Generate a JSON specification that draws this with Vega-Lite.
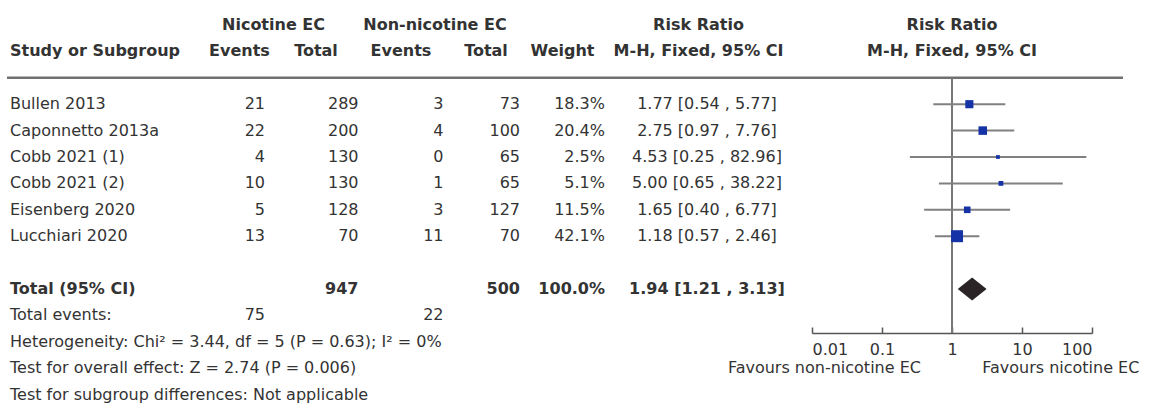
{
  "$schema": "https://vega.github.io/schema/vega-lite/v6.json",
  "width": 1116,
  "height": 408,
  "autosize": {"type": "none"},
  "padding": {"left": 7, "right": 26, "top": 0, "bottom": 0},
  "background": "white",
  "config": {
    "view": {"stroke": null},
    "text": {"font": "DejaVu Sans", "fontSize": 16, "color": "#333333", "baseline": "middle"},
    "axisX": {
      "domainColor": "#555555", "domainWidth": 1.5,
      "tickColor": "#555555", "tickWidth": 1.5, "tickSize": -6,
      "labelFont": "DejaVu Sans", "labelFontSize": 16, "labelColor": "#333333",
      "labelPadding": 14, "grid": false
    }
  },
  "datasets": {
    "studies": [
      {"row": "Bullen 2013", "e1": 21, "t1": 289, "e2": 3, "t2": 73, "w": "18.3%", "ci": "1.77 [0.54 , 5.77]", "rr": 1.77, "lo": 0.54, "hi": 5.77, "wt": 18.3},
      {"row": "Caponnetto 2013a", "e1": 22, "t1": 200, "e2": 4, "t2": 100, "w": "20.4%", "ci": "2.75 [0.97 , 7.76]", "rr": 2.75, "lo": 0.97, "hi": 7.76, "wt": 20.4},
      {"row": "Cobb 2021 (1)", "e1": 4, "t1": 130, "e2": 0, "t2": 65, "w": "2.5%", "ci": "4.53 [0.25 , 82.96]", "rr": 4.53, "lo": 0.25, "hi": 82.96, "wt": 2.5},
      {"row": "Cobb 2021 (2)", "e1": 10, "t1": 130, "e2": 1, "t2": 65, "w": "5.1%", "ci": "5.00 [0.65 , 38.22]", "rr": 5.0, "lo": 0.65, "hi": 38.22, "wt": 5.1},
      {"row": "Eisenberg 2020", "e1": 5, "t1": 128, "e2": 3, "t2": 127, "w": "11.5%", "ci": "1.65 [0.40 , 6.77]", "rr": 1.65, "lo": 0.40, "hi": 6.77, "wt": 11.5},
      {"row": "Lucchiari 2020", "e1": 13, "t1": 70, "e2": 11, "t2": 70, "w": "42.1%", "ci": "1.18 [0.57 , 2.46]", "rr": 1.18, "lo": 0.57, "hi": 2.46, "wt": 42.1}
    ],
    "total": [
      {"row": "Total (95% CI)", "t1": 947, "t2": 500, "w": "100.0%", "ci": "1.94 [1.21 , 3.13]", "rr": 1.94, "lo": 1.21, "hi": 3.13}
    ],
    "events": [
      {"row": "Total events:", "e1": 75, "e2": 22}
    ],
    "notes": [
      {"row": "Total events:", "label": "Total events:"},
      {"row": "het", "label": "Heterogeneity: Chi² = 3.44, df = 5 (P = 0.63); I² = 0%"},
      {"row": "overall", "label": "Test for overall effect: Z = 2.74 (P = 0.006)"},
      {"row": "subgroup", "label": "Test for subgroup differences: Not applicable"}
    ],
    "headers": [
      {"row": "hdr1", "col": "nic", "label": "Nicotine EC"},
      {"row": "hdr1", "col": "non", "label": "Non-nicotine EC"},
      {"row": "hdr1", "col": "rrh", "label": "Risk Ratio"},
      {"row": "hdr2", "col": "ev1", "label": "Events"},
      {"row": "hdr2", "col": "tot1", "label": "Total"},
      {"row": "hdr2", "col": "ev2", "label": "Events"},
      {"row": "hdr2", "col": "tot2", "label": "Total"},
      {"row": "hdr2", "col": "wt", "label": "Weight"},
      {"row": "hdr2", "col": "rrh", "label": "M-H, Fixed, 95% CI"}
    ],
    "studyHeader": [
      {"row": "hdr2", "label": "Study or Subgroup"}
    ],
    "plotHeaders": [
      {"row": "hdr1", "label": "Risk Ratio"},
      {"row": "hdr2", "label": "M-H, Fixed, 95% CI"}
    ],
    "favLeft": [{"label": "Favours non-nicotine EC"}],
    "favRight": [{"label": "Favours nicotine EC"}],
    "one": [{}]
  },
  "layer": [
    {
      "layer": [
        {
          "data": {"name": "studies"},
          "mark": {"type": "text", "align": "left"},
          "encoding": {
            "x": {
              "datum": "study", "type": "nominal", "axis": null,
              "scale": {
                "type": "point", "padding": 0, "range": [3, 700],
                "domain": ["study","_1","_2","_3","_4","_5","_6","_7","_8","_9","_10","_11","_12","_13","_14","_15","_16","_17","_18","_19","_20","_21","_22","_23","_24","_25","_26","ev1","_28","_29","e1","nic","_32","_33","_34","_35","tot1","_37","_38","_39","_40","t1","_42","_43","_44","_45","ev2","_47","_48","_49","non","e2","_52","_53","_54","_55","tot2","_57","_58","_59","t2","_61","_62","_63","_64","wt","_66","_67","_68","_69","w","_71","_72","_73","_74","_75","_76","_77","_78","_79","_80","rrh","ci"]
              }
            },
            "y": {
              "field": "row", "type": "nominal", "axis": null,
              "scale": {
                "type": "point", "padding": 0, "range": [25, 394.6],
                "domain": ["hdr1","_y1","_y2","hdr2","_y4","_y5","line","_y7","_y8","Bullen 2013","_y10","_y11","Caponnetto 2013a","_y13","_y14","Cobb 2021 (1)","_y16","_y17","Cobb 2021 (2)","_y19","_y20","Eisenberg 2020","_y22","_y23","Lucchiari 2020","_y25","_y26","_y27","_y28","_y29","Total (95% CI)","_y31","_y32","Total events:","_y34","axis","het","_y37","_y38","overall","_y40","_y41","subgroup"]
              }
            },
            "text": {"field": "row"}
          }
        },
        {
          "data": {"name": "studies"},
          "transform": [{"fold": ["e1", "t1", "e2", "t2", "w"], "as": ["col", "val"]}],
          "mark": {"type": "text", "align": "right"},
          "encoding": {
            "x": {"field": "col", "type": "nominal", "axis": null},
            "y": {"field": "row", "type": "nominal", "axis": null},
            "text": {"field": "val"}
          }
        },
        {
          "data": {"name": "studies"},
          "mark": {"type": "text", "align": "center"},
          "encoding": {
            "x": {"datum": "ci", "type": "nominal", "axis": null},
            "y": {"field": "row", "type": "nominal", "axis": null},
            "text": {"field": "ci"}
          }
        },
        {
          "data": {"name": "total"},
          "mark": {"type": "text", "align": "left", "fontWeight": "bold"},
          "encoding": {
            "x": {"datum": "study", "type": "nominal", "axis": null},
            "y": {"field": "row", "type": "nominal", "axis": null},
            "text": {"field": "row"}
          }
        },
        {
          "data": {"name": "total"},
          "transform": [{"fold": ["t1", "t2", "w"], "as": ["col", "val"]}],
          "mark": {"type": "text", "align": "right", "fontWeight": "bold"},
          "encoding": {
            "x": {"field": "col", "type": "nominal", "axis": null},
            "y": {"field": "row", "type": "nominal", "axis": null},
            "text": {"field": "val"}
          }
        },
        {
          "data": {"name": "total"},
          "mark": {"type": "text", "align": "center", "fontWeight": "bold"},
          "encoding": {
            "x": {"datum": "ci", "type": "nominal", "axis": null},
            "y": {"field": "row", "type": "nominal", "axis": null},
            "text": {"field": "ci"}
          }
        },
        {
          "data": {"name": "events"},
          "transform": [{"fold": ["e1", "e2"], "as": ["col", "val"]}],
          "mark": {"type": "text", "align": "right"},
          "encoding": {
            "x": {"field": "col", "type": "nominal", "axis": null},
            "y": {"field": "row", "type": "nominal", "axis": null},
            "text": {"field": "val"}
          }
        },
        {
          "data": {"name": "notes"},
          "mark": {"type": "text", "align": "left"},
          "encoding": {
            "x": {"datum": "study", "type": "nominal", "axis": null},
            "y": {"field": "row", "type": "nominal", "axis": null},
            "text": {"field": "label"}
          }
        },
        {
          "data": {"name": "headers"},
          "mark": {"type": "text", "align": "center", "fontWeight": "bold"},
          "encoding": {
            "x": {"field": "col", "type": "nominal", "axis": null},
            "y": {"field": "row", "type": "nominal", "axis": null},
            "text": {"field": "label"}
          }
        },
        {
          "data": {"name": "studyHeader"},
          "mark": {"type": "text", "align": "left", "fontWeight": "bold"},
          "encoding": {
            "x": {"datum": "study", "type": "nominal", "axis": null},
            "y": {"field": "row", "type": "nominal", "axis": null},
            "text": {"field": "label"}
          }
        },
        {
          "data": {"name": "one"},
          "mark": {"type": "rule", "color": "#707070", "strokeWidth": 2.5},
          "encoding": {
            "y": {"datum": "line", "type": "nominal", "axis": null}
          }
        }
      ]
    },
    {
      "layer": [
        {
          "data": {"name": "one"},
          "mark": {"type": "rule", "color": "#777777", "strokeWidth": 2},
          "encoding": {
            "x": {
              "datum": 1, "type": "quantitative",
              "scale": {"type": "log", "domain": [0.01, 100], "range": [805, 1085]},
              "axis": {"values": [0.01, 0.1, 1, 10, 100], "format": "~g", "orient": "bottom", "offset": -75, "title": null}
            },
            "y": {"datum": "line", "type": "nominal", "axis": null},
            "y2": {"datum": "axis"}
          }
        },
        {
          "data": {"name": "studies"},
          "mark": {"type": "rule", "color": "#808080", "strokeWidth": 2},
          "encoding": {
            "x": {"field": "lo", "type": "quantitative", "axis": {"values": [0.01, 0.1, 1, 10, 100], "format": "~g", "orient": "bottom", "offset": -75, "title": null}},
            "x2": {"field": "hi"},
            "y": {"field": "row", "type": "nominal", "axis": null}
          }
        },
        {
          "data": {"name": "studies"},
          "mark": {"type": "square", "filled": true, "opacity": 1, "color": "#1533a6"},
          "encoding": {
            "x": {"field": "rr", "type": "quantitative", "axis": {"values": [0.01, 0.1, 1, 10, 100], "format": "~g", "orient": "bottom", "offset": -75, "title": null}},
            "y": {"field": "row", "type": "nominal", "axis": null},
            "size": {"field": "wt", "type": "quantitative", "legend": null, "scale": {"type": "linear", "domain": [0, 42.1], "range": [6, 144]}}
          }
        },
        {
          "data": {"name": "total"},
          "mark": {"type": "point", "filled": true, "opacity": 1, "color": "#2b2426", "shape": "M-1,0L0,-0.8L1,0L0,0.8Z", "size": 830},
          "encoding": {
            "x": {"field": "rr", "type": "quantitative", "axis": {"values": [0.01, 0.1, 1, 10, 100], "format": "~g", "orient": "bottom", "offset": -75, "title": null}},
            "y": {"field": "row", "type": "nominal", "axis": null}
          }
        },
        {
          "data": {"name": "plotHeaders"},
          "mark": {"type": "text", "align": "center", "fontWeight": "bold"},
          "encoding": {
            "x": {"datum": 1, "type": "quantitative", "axis": {"values": [0.01, 0.1, 1, 10, 100], "format": "~g", "orient": "bottom", "offset": -75, "title": null}},
            "y": {"field": "row", "type": "nominal", "axis": null},
            "text": {"field": "label"}
          }
        },
        {
          "data": {"name": "favLeft"},
          "mark": {"type": "text", "align": "right"},
          "encoding": {
            "x": {"datum": 0.36, "type": "quantitative", "axis": {"values": [0.01, 0.1, 1, 10, 100], "format": "~g", "orient": "bottom", "offset": -75, "title": null}},
            "y": {"datum": "overall", "type": "nominal", "axis": null},
            "text": {"field": "label"}
          }
        },
        {
          "data": {"name": "favRight"},
          "mark": {"type": "text", "align": "left"},
          "encoding": {
            "x": {"datum": 2.7, "type": "quantitative", "axis": {"values": [0.01, 0.1, 1, 10, 100], "format": "~g", "orient": "bottom", "offset": -75, "title": null}},
            "y": {"datum": "overall", "type": "nominal", "axis": null},
            "text": {"field": "label"}
          }
        }
      ]
    }
  ],
  "resolve": {"scale": {"x": "independent"}, "axis": {"x": "independent"}}
}
